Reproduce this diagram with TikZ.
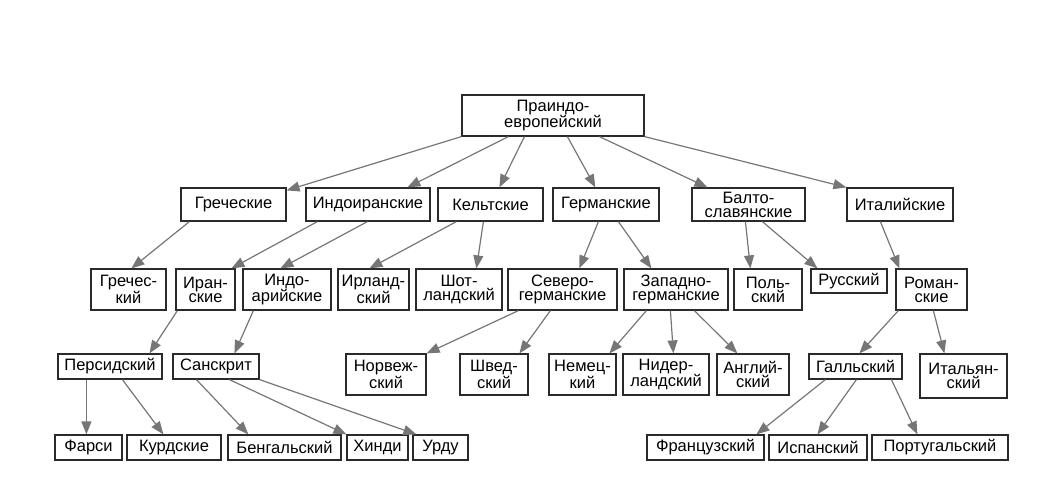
\documentclass[tikz,border=0pt]{standalone}
\usepackage{fontspec}
\setmainfont{Liberation Sans}
\usetikzlibrary{arrows.meta}
\definecolor{arrgray}{HTML}{767676}
\definecolor{boxline}{HTML}{2A2A2A}
\tikzset{
  lbox/.style={draw=boxline, line width=1.2pt, fill=white, inner sep=0pt, align=center,
    font=\fontsize{16.5}{14.2}\selectfont, text=black},
  arr/.style={draw=arrgray, line width=1.2pt, -{Triangle[length=13pt,width=10pt]}},
}
\newcommand{\bx}[6]{% name, x1, x2, y1, y2, text
  \node[lbox, minimum width={#3-#2}, minimum height={#5-#4}] (#1) at ({(#2+#3)/2},{(#4+#5)/2}) {#6};}
\begin{document}
\begin{tikzpicture}[x=1pt,y=-1pt]
\useasboundingbox (0,0) rectangle (1051,483);
% level 0
\bx{root}{462}{644}{95}{136}{Праиндо-\\европейский}
% level 1
\bx{gr}{181}{286}{188}{221}{Греческие}
\bx{ii}{306}{430}{188}{221}{Индоиранские}
\bx{ke}{438}{543}{188}{221}{Кельтские}
\bx{ge}{553}{659}{188}{221}{Германские}
\bx{bs}{692}{805}{188}{221}{Балто-\\славянские}
\bx{it}{847}{953}{188}{221}{Италийские}
% level 2
\bx{grk}{91}{166}{269}{310}{Гречес-\\кий}
\bx{ir}{176}{235}{269}{310}{Иран-\\ские}
\bx{ia}{243}{331}{269}{310}{Индо-\\арийские}
\bx{irl}{338}{409}{269}{310}{Ирланд-\\ский}
\bx{sco}{416}{502}{269}{310}{Шот-\\ландский}
\bx{ng}{508}{617}{269}{310}{Северо-\\германские}
\bx{wg}{624}{728}{269}{310}{Западно-\\германские}
\bx{pol}{734}{802}{269}{310}{Поль-\\ский}
\bx{rus}{811}{887}{269}{293}{Русский}
\bx{rom}{896}{967}{269}{310}{Роман-\\ские}
% level 3
\bx{per}{58}{162}{354}{379}{Персидский}
\bx{san}{173}{259}{354}{379}{Санскрит}
\bx{nor}{346}{426}{354}{395}{Норвеж-\\ский}
\bx{swe}{460}{528}{354}{395}{Швед-\\ский}
\bx{ger}{549}{616}{354}{395}{Немец-\\кий}
\bx{nl}{623}{709}{354}{395}{Нидер-\\ландский}
\bx{en}{717}{789}{354}{395}{Англий-\\ский}
\bx{gal}{809}{902}{354}{379}{Галльский}
\bx{ita}{920}{1007}{354}{398}{Итальян-\\ский}
% level 4
\bx{far}{55}{122}{435}{460}{Фарси}
\bx{kur}{127}{221}{435}{460}{Курдские}
\bx{ben}{228}{341}{435}{460}{Бенгальский}
\bx{hin}{347}{408}{435}{460}{Хинди}
\bx{urd}{413}{468}{435}{460}{Урду}
\bx{fr}{647}{764}{435}{460}{Французский}
\bx{es}{769}{867}{435}{460}{Испанский}
\bx{pt}{872}{1008}{435}{460}{Португальский}
% arrows from root
\draw[arr] (root.south west) -- ([yshift=-3pt]gr.north east);
\draw[arr] ([xshift=47pt]root.south west) -- ([xshift=102pt]ii.north west);
\draw[arr] ([xshift=63pt]root.south west) -- ([xshift=62pt]ke.north west);
\draw[arr] ([xshift=106pt]root.south west) -- ([xshift=43pt]ge.north west);
\draw[arr] ([xshift=138pt]root.south west) -- ([xshift=16pt]bs.north west);
\draw[arr] (root.south east) -- (it.north west);
% level 1 -> 2
\draw[arr] ([xshift=9pt]gr.south west) -- ([xshift=41pt]grk.north west);
\draw[arr] ([xshift=12pt]ii.south west) -- ([xshift=56pt]ir.north west);
\draw[arr] ([xshift=62pt]ii.south west) -- ([xshift=38pt]ia.north west);
\draw[arr] ([xshift=19pt]ke.south west) -- ([xshift=32pt]irl.north west);
\draw[arr] ([xshift=46pt]ke.south west) -- ([xshift=61pt]sco.north west);
\draw[arr] ([xshift=46pt]ge.south west) -- ([xshift=72pt]ng.north west);
\draw[arr] ([xshift=66pt]ge.south west) -- ([xshift=28pt]wg.north west);
\draw[arr] ([xshift=54pt]bs.south west) -- ([xshift=17pt]pol.north west);
\draw[arr] ([xshift=71pt]bs.south west) -- ([xshift=7pt]rus.north west);
\draw[arr] ([xshift=34pt]it.south west) -- ([xshift=4pt]rom.north west);
% level 2 -> 3
\draw[arr] ([xshift=2pt]ir.south west) -- ([xshift=92pt]per.north west);
\draw[arr] ([xshift=11pt]ia.south west) -- ([xshift=62pt]san.north west);
\draw[arr] ([xshift=11pt]ng.south west) -- (nor.north east);
\draw[arr] ([xshift=43pt]ng.south west) -- ([xshift=60pt]swe.north west);
\draw[arr] ([xshift=23pt]wg.south west) -- ([xshift=61pt]ger.north west);
\draw[arr] ([xshift=47pt]wg.south west) -- ([xshift=51pt]nl.north west);
\draw[arr] ([xshift=71pt]wg.south west) -- ([xshift=21pt]en.north west);
\draw[arr] ([xshift=3pt]rom.south west) -- ([xshift=51pt]gal.north west);
\draw[arr] ([xshift=38pt]rom.south west) -- ([xshift=25pt]ita.north west);
% level 3 -> 4
\draw[arr] ([xshift=29pt]per.south west) -- ([xshift=32pt]far.north west);
\draw[arr] ([xshift=65pt]per.south west) -- ([xshift=37pt]kur.north west);
\draw[arr] ([xshift=24pt]san.south west) -- ([xshift=21pt]ben.north west);
\draw[arr] ([xshift=57pt]san.south west) -- (hin.north west);
\draw[arr] (san.south east) -- ([xshift=4pt]urd.north west);
\draw[arr] ([xshift=17pt]gal.south west) -- ([xshift=110pt]fr.north west);
\draw[arr] ([xshift=48pt]gal.south west) -- ([xshift=49pt]es.north west);
\draw[arr] ([xshift=83pt]gal.south west) -- ([xshift=46pt]pt.north west);
\end{tikzpicture}
\end{document}
